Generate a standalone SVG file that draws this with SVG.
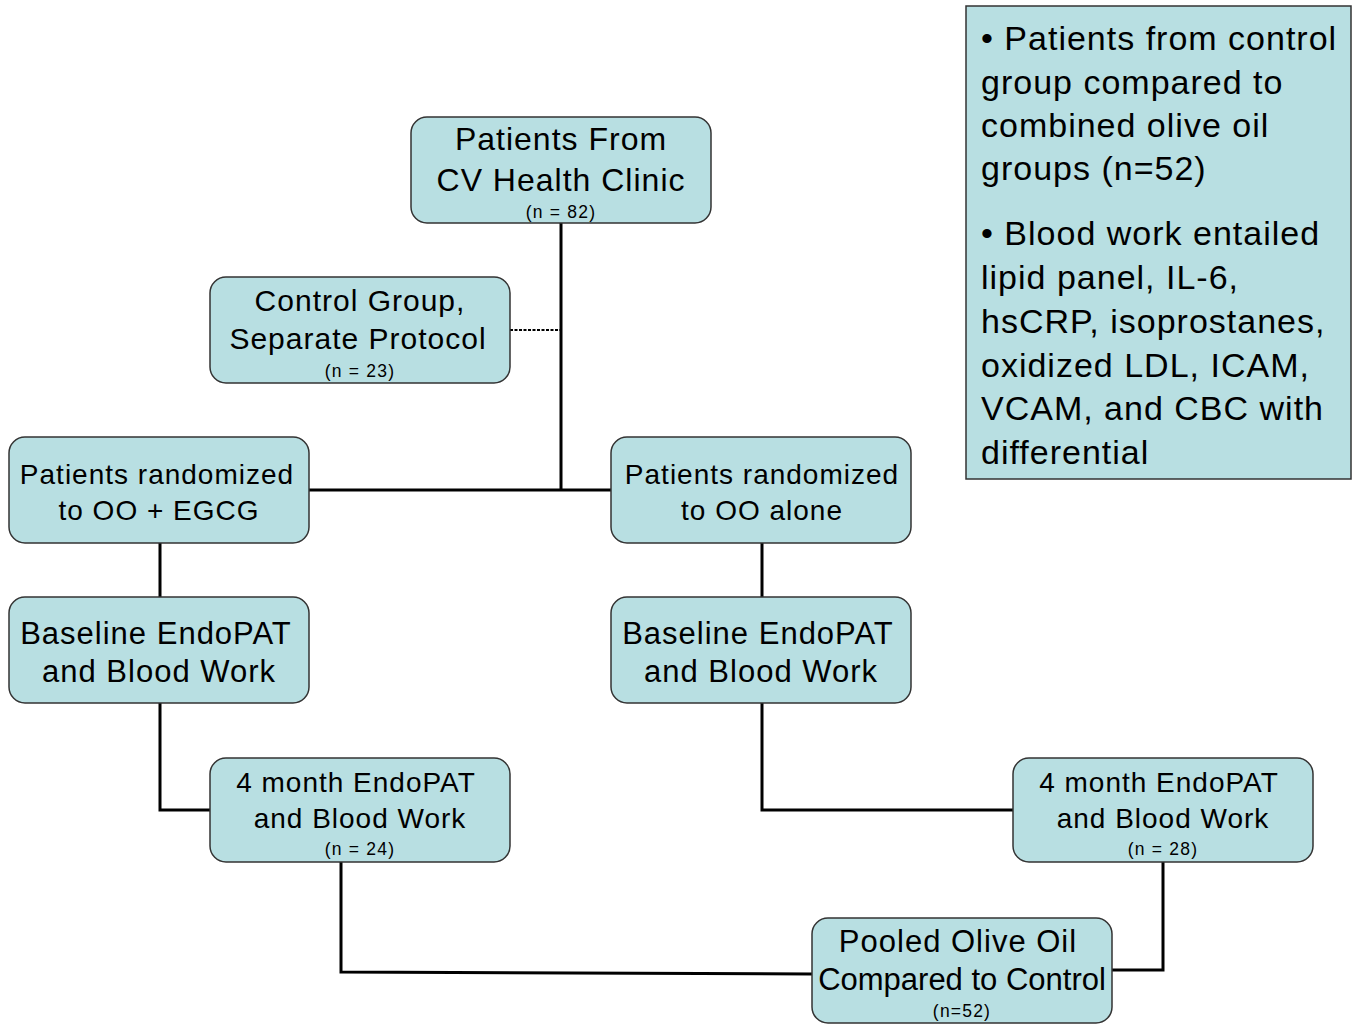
<svg xmlns="http://www.w3.org/2000/svg" width="1359" height="1028" viewBox="0 0 1359 1028">
<style>
.box{fill:#b8dfe2;stroke:#333;stroke-width:1.5}
.t{font-family:"Liberation Sans",Arial,sans-serif;fill:#000;text-anchor:middle;letter-spacing:1px}
.s{font-family:"Liberation Sans",Arial,sans-serif;fill:#000;text-anchor:middle;font-size:17.5px;letter-spacing:1.2px}
.c{fill:none;stroke:#000;stroke-width:3}
.n{font-family:"Liberation Sans",Arial,sans-serif;fill:#000;font-size:34px;letter-spacing:1px}
</style>
<rect width="1359" height="1028" fill="#fff"/>
<g id="connectors">
<path class="c" d="M561 223V490M309 490H611M160 543V597M762 543V597M160 703V810H210M762 703V810H1013M341 862V972L812 974M1163 862V970H1112"/>
<path d="M510 330H561" fill="none" stroke="#000" stroke-width="2" stroke-dasharray="3 1.5"/>
</g>
<g id="n1"><rect class="box" x="411" y="117" width="300" height="106" rx="16"/>
<text class="t" x="561" y="150" font-size="32">Patients From</text>
<text class="t" x="561" y="191" font-size="32">CV Health Clinic</text>
<text class="s" x="561" y="218">(n = 82)</text></g>
<g id="n2"><rect class="box" x="210" y="277" width="300" height="106" rx="16"/>
<text class="t" x="360" y="311" font-size="30">Control Group,</text>
<text class="t" x="358" y="349" font-size="30">Separate Protocol</text>
<text class="s" x="360" y="377">(n = 23)</text></g>
<g id="n3"><rect class="box" x="9" y="437" width="300" height="106" rx="16"/>
<text class="t" x="157" y="484" font-size="28">Patients randomized</text>
<text class="t" x="159" y="520" font-size="28">to OO + EGCG</text></g>
<g id="n4"><rect class="box" x="611" y="437" width="300" height="106" rx="16"/>
<text class="t" x="762" y="484" font-size="28">Patients randomized</text>
<text class="t" x="762" y="520" font-size="28">to OO alone</text></g>
<g id="n5"><rect class="box" x="9" y="597" width="300" height="106" rx="16"/>
<text class="t" x="156" y="644" font-size="31">Baseline EndoPAT</text>
<text class="t" x="159" y="682" font-size="31">and Blood Work</text></g>
<g id="n6"><rect class="box" x="611" y="597" width="300" height="106" rx="16"/>
<text class="t" x="758" y="644" font-size="31">Baseline EndoPAT</text>
<text class="t" x="761" y="682" font-size="31">and Blood Work</text></g>
<g id="n7"><rect class="box" x="210" y="758" width="300" height="104" rx="16"/>
<text class="t" x="356" y="792" font-size="28">4 month EndoPAT</text>
<text class="t" x="360" y="828" font-size="28">and Blood Work</text>
<text class="s" x="360" y="855">(n = 24)</text></g>
<g id="n8"><rect class="box" x="1013" y="758" width="300" height="104" rx="16"/>
<text class="t" x="1159" y="792" font-size="28">4 month EndoPAT</text>
<text class="t" x="1163" y="828" font-size="28">and Blood Work</text>
<text class="s" x="1163" y="855">(n = 28)</text></g>
<g id="n9"><rect class="box" x="812" y="918" width="300" height="105" rx="16"/>
<text class="t" x="958" y="952" font-size="31">Pooled Olive Oil</text>
<text class="t" x="962" y="990" font-size="31" style="letter-spacing:0">Compared to Control</text>
<text class="s" x="962" y="1017">(n=52)</text></g>
<g id="note"><rect x="966" y="6" width="385" height="473" fill="#b8dfe2" stroke="#333" stroke-width="1.5"/>
<text class="n" x="981" y="50">• Patients from control</text>
<text class="n" x="981" y="94">group compared to</text>
<text class="n" x="981" y="137">combined olive oil</text>
<text class="n" x="981" y="180">groups (n=52)</text>
<text class="n" x="981" y="245">• Blood work entailed</text>
<text class="n" x="981" y="289">lipid panel, IL-6,</text>
<text class="n" x="981" y="333">hsCRP, isoprostanes,</text>
<text class="n" x="981" y="377">oxidized LDL, ICAM,</text>
<text class="n" x="981" y="420">VCAM, and CBC with</text>
<text class="n" x="981" y="464">differential</text></g>
</svg>
